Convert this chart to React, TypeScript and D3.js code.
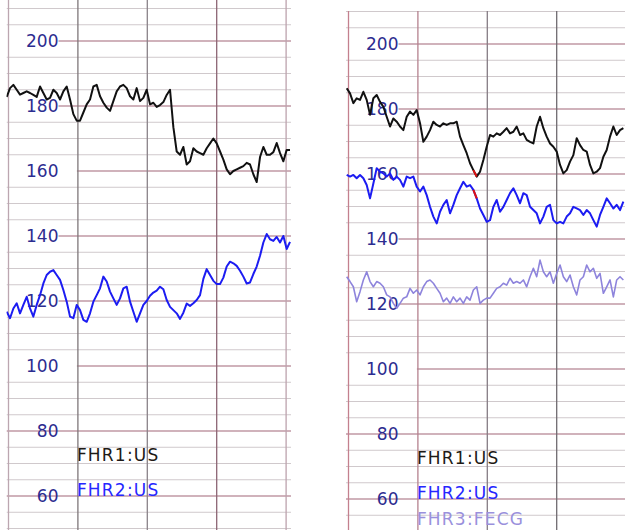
import React from "react";
import * as d3 from "d3";

// ---- data (bpm), sampled at equal time steps ----
const LEFT_FHR1 = [
  182.8, 185.5, 186.5, 185, 183.5, 184, 184.5, 184, 183.4, 182.8,
  186, 184, 182, 182.5, 185, 184, 182, 184.5, 186, 182,
  177.5, 175.5, 175.5, 178, 180.5, 182, 186, 186.5, 183, 181,
  179.5, 178.5, 181.5, 184.5, 186, 186.5, 185.5, 183, 182, 185.5,
  181.5, 182.5, 185, 180.5, 181, 179.7, 180.3, 181.2, 183.4, 185,
  173.5, 166, 165, 167.4, 162, 163, 167, 166, 165.5, 165,
  167, 168.5, 170, 168.5, 166, 163.5, 160.5, 159, 160, 160.5,
  161, 161.5, 162.5, 162, 159, 156.6, 164.3, 167.4, 165, 165,
  165.8, 168.6, 165.5, 163, 166.5, 166.5,
];
const LEFT_FHR2 = [
  116.7, 114.7, 117.7, 119.3, 116.2, 118.8, 121.3, 117.7, 115.2, 118.8,
  121.8, 125.4, 128, 129, 129.5, 128, 126.5, 123.4, 119.8, 115.2,
  114.7, 118.8, 117.2, 114.2, 113.6, 116.2, 119.8, 121.8, 123.9, 127.5,
  126, 122.9, 120.8, 118.8, 120.8, 123.9, 124.4, 119.8, 116.7, 113.6,
  116.2, 118.8, 120, 121.6, 122.6, 123.2, 124.4, 123.6, 120.3, 118.2,
  117.2, 116.2, 114.5, 116.4, 119.2, 118.5, 119.3, 120.3, 121.8, 126.8,
  129.8, 128, 126.2, 125.2, 125.2, 127.2, 130.6, 132.1, 131.6, 130.8,
  129.3, 127.5, 125.4, 125.7, 128.3, 130.6, 133.9, 138, 140.6, 139,
  138.5, 139.7, 138, 140, 136, 138.2,
];
const RIGHT_FHR1 = [
  186.4, 184.8, 181.8, 183.3, 182.8, 185.3, 182.8, 178.2, 183.3, 184.3,
  182.2, 180.7, 177.6, 174.6, 177.1, 176.1, 174.6, 173.5, 177.6, 179.2,
  178.2, 179.7, 175.6, 169.9, 171.5, 173.5, 176.1, 175.1, 174.6, 175.6,
  175.1, 175.6, 175.6, 176.1, 171.5, 168.9, 166.4, 163.3, 161.2, 159.2,
  160.7, 164.3, 168.4, 172, 171.5, 172.5, 172, 173, 174.1, 172.5,
  173, 174.6, 172, 172.5, 170.5, 169.9, 169.4, 174.6, 177.6, 174.1,
  171.5, 169.4, 168.4, 166.9, 162.8, 160.2, 161.2, 163.8, 165.8, 171,
  168.9, 167.4, 166.9, 162.8, 160.2, 160.7, 161.8, 165.3, 167.4, 171.5,
  174.6, 172, 173.5, 174.1,
];
const RIGHT_FHR2 = [
  159.7, 159.2, 159.7, 158.7, 159.7, 158.7, 156.6, 152.5, 157.1, 161.8,
  160.7, 160.2, 159.2, 160.2, 158.2, 159.2, 158.2, 156.1, 159.2, 158.7,
  159.2, 156.1, 154.6, 156.1, 153.5, 149.9, 146.9, 144.8, 148.4, 150.5,
  152, 147.9, 150.5, 153.5, 155.6, 157.6, 156.1, 156.6, 155.1, 152.5,
  149.4, 147.4, 145.3, 145.8, 149.9, 152, 148.4, 149.9, 152, 154.1,
  155.6, 153.5, 151, 154.1, 153.5, 149.9, 148.9, 147.9, 144.8, 146.9,
  149.9, 150.5, 145.8, 144.8, 145.3, 144.8, 146.9, 147.9, 149.9, 149.4,
  148.9, 147.4, 148.9, 147.9, 145.8, 143.8, 147.4, 149.9, 152.5, 151,
  149.4, 150.5, 148.9, 151.5,
];
const RIGHT_FHR3 = [
  128.4, 126.9, 125.3, 120.7, 123.8, 127.4, 129.9, 126.9, 125.3, 126.9,
  126.4, 125.3, 122.8, 122.2, 120.2, 118.7, 120.2, 121.8, 122.2, 124.8,
  123.3, 124.3, 122.8, 125.3, 126.9, 127.4, 126.4, 124.8, 123.3, 120.7,
  121.8, 120.2, 122.2, 120.7, 121.8, 120.2, 122.2, 121.2, 124.3, 125.3,
  120.2, 121.2, 121.8, 121.8, 123.3, 124.8, 125.3, 126.4, 125.8, 127.9,
  126.4, 126.9, 126.4, 127.4, 125.3, 128.4, 131, 128.4, 133.5, 129.9,
  128.4, 129.9, 126.4, 129.4, 132, 128.4, 126.9, 128.9, 125.3, 122.8,
  127.4, 128.4, 132, 129.9, 131, 127.9, 129.4, 123.3, 125.3, 127.4,
  122.2, 127.4, 128.4, 127.4,
];
// sample indices where traces coincide (drawn red)
const RIGHT_COINCIDENCE = [38, 39];

const Y_TICKS = [200, 180, 160, 140, 120, 100, 80, 60];
const GRID_BPM = d3.range(50, 216, 5);
const MINUTES = [0, 1, 2, 3, 4];
const LEFT_LEGEND = ["FHR1:US", "FHR2:US"];
const RIGHT_LEGEND = ["FHR1:US", "FHR2:US", "FHR3:FECG"];

// ---- layout ----
const W = 625;
const H = 530;
const PX_PER_BPM = 3.25;
const PX_PER_MIN = 69.4;
const SAMPLES_PER_MIN = 20.82;
const TRACE_OFFSET_MIN = -0.026;
const FONT = "'DejaVu Sans', Verdana, sans-serif";

type Trace = { data: number[]; color: string; width: number; legend: string };

type PanelCfg = {
  id: string;
  origin: number;
  y200: number;
  clip: [number, number, number, number];
  traces: Trace[];
  vColors: string[];
  fullMajors: number[];
  lateMajors: number[];
};

const PANELS: PanelCfg[] = [
  {
    id: "left",
    origin: 8.5,
    y200: 41,
    clip: [6.5, -20, 291, 560],
    traces: [
      { data: LEFT_FHR1, color: "#111111", width: 2, legend: LEFT_LEGEND[0] },
      { data: LEFT_FHR2, color: "#1c1cf2", width: 2, legend: LEFT_LEGEND[1] },
    ],
    vColors: ["#bca6b0", "#7e7679", "#8a8288", "#8c6474", "#bca2ad"],
    fullMajors: [80, 60],
    lateMajors: [160, 100],
  },
  {
    id: "right",
    origin: 348.5,
    y200: 44,
    clip: [346, 11, 680, 560],
    traces: [
      { data: RIGHT_FHR1, color: "#111111", width: 2, legend: RIGHT_LEGEND[0] },
      { data: RIGHT_FHR2, color: "#1c1cf2", width: 2, legend: RIGHT_LEGEND[1] },
      { data: RIGHT_FHR3, color: "#8e84dc", width: 1.6, legend: RIGHT_LEGEND[2] },
    ],
    vColors: ["#c4808e", "#b4808e", "#857c84", "#6f6b70", "#888888"],
    fullMajors: [80, 60],
    lateMajors: [100],
  },
];

const LEGEND_COLORS = ["#1e1a16", "#2626ff", "#9a90dc"];

function Panel({ cfg }: { cfg: PanelCfg }) {
  const y = d3
    .scaleLinear()
    .domain([200, 60])
    .range([cfg.y200, cfg.y200 + 140 * PX_PER_BPM]);
  const x = d3
    .scaleLinear()
    .domain([0, 4])
    .range([cfg.origin, cfg.origin + 4 * PX_PER_MIN]);
  const [cx0, cy0, cx1, cy1] = cfg.clip;
  const line = d3
    .line<number>()
    .x((_, i) => x(TRACE_OFFSET_MIN + i / SAMPLES_PER_MIN))
    .y((d) => y(d));
  const isRight = cfg.id === "right";

  return (
    <g>
      <defs>
        <clipPath id={`clip-${cfg.id}`}>
          <rect x={cx0} y={cy0} width={cx1 - cx0} height={cy1 - cy0} />
        </clipPath>
      </defs>
      <g clipPath={`url(#clip-${cfg.id})`}>
        <rect x={cx0} y={cy0} width={cx1 - cx0} height={cy1 - cy0} fill="#ffffff" />
        {/* horizontal grid */}
        {GRID_BPM.map((v) => {
          const yy = y(v);
          const major = v % 20 === 0;
          if (!major) {
            return (
              <line key={v} x1={cx0} x2={cx1} y1={yy} y2={yy} stroke="#d0c9cc" strokeWidth={1} />
            );
          }
          let start = cfg.origin + 50;
          if (cfg.fullMajors.includes(v)) start = cx0;
          if (cfg.lateMajors.includes(v)) start = x(1) - 1;
          return (
            <line key={v} x1={start} x2={cx1} y1={yy} y2={yy} stroke="#c198a5" strokeWidth={1.3} />
          );
        })}
        {/* vertical grid */}
        {MINUTES.map((m, i) => (
          <line
            key={m}
            x1={x(m)}
            x2={x(m)}
            y1={cy0}
            y2={cy1}
            stroke={cfg.vColors[i]}
            strokeWidth={1.3}
          />
        ))}
        {/* y tick labels */}
        {Y_TICKS.map((v) => (
          <text
            key={v}
            x={cfg.origin + 50}
            y={y(v)}
            dy="0.36em"
            textAnchor="end"
            fontFamily={FONT}
            fontSize={17}
            fill="#2c2c90"
          >
            {v}
          </text>
        ))}
        {/* legend */}
        {cfg.traces.map((t, i) => (
          <text
            key={t.legend + i}
            x={x(1) - 1}
            y={Math.min(cfg.y200 + 420 + 34.5 * i, 525)}
            fontFamily={FONT}
            fontSize={17}
            letterSpacing={1.2}
            fill={LEGEND_COLORS[i]}
          >
            {t.legend}
          </text>
        ))}
        {/* traces */}
        {cfg.traces
          .slice()
          .reverse()
          .map((t) => (
            <path
              key={t.legend}
              d={line(t.data) || ""}
              fill="none"
              stroke={t.color}
              strokeWidth={t.width}
              strokeLinejoin="round"
            />
          ))}
        {isRight &&
          cfg.traces.slice(0, 2).map((t) => {
            const idx = RIGHT_COINCIDENCE;
            const seg = idx.map((k) => t.data[k]);
            const segLine = d3
              .line<number>()
              .x((_, j) => x(TRACE_OFFSET_MIN + idx[j] / SAMPLES_PER_MIN))
              .y((d) => y(d));
            return (
              <path
                key={"red" + t.legend}
                d={segLine(seg) || ""}
                fill="none"
                stroke="#e01010"
                strokeWidth={2}
              />
            );
          })}
      </g>
    </g>
  );
}

export default function App() {
  return (
    <svg
      width={W}
      height={H}
      viewBox={`0 0 ${W} ${H}`}
      style={{ position: "absolute", left: 0, top: 0, background: "#ffffff" }}
    >
      <rect x={0} y={0} width={W} height={H} fill="#ffffff" />
      {PANELS.map((p) => (
        <Panel key={p.id} cfg={p} />
      ))}
    </svg>
  );
}
